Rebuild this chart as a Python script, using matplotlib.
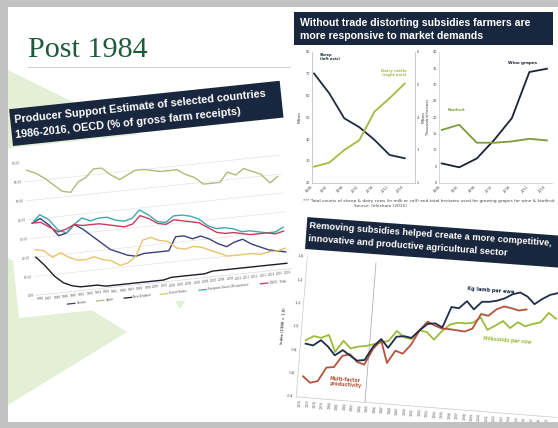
import numpy as np
import matplotlib
matplotlib.use("Agg")
import matplotlib.pyplot as plt
from matplotlib.patches import Rectangle, Polygon
from matplotlib.lines import Line2D
from matplotlib.transforms import Affine2D
from matplotlib import font_manager
import mpl_toolkits.axisartist.floating_axes as floating_axes
from mpl_toolkits.axisartist.grid_finder import FixedLocator, DictFormatter

# ---------------------------------------------------------------- data
slide_title = "Post 1984"

# Chart 1: Producer Support Estimate (% of gross farm receipts)
pse_title = ["Producer Support Estimate of selected countries",
             "1986-2016, OECD (% of gross farm receipts)"]
pse_years = list(range(1986, 2017))
pse_ticks = [0, 10, 20, 30, 40, 50, 60, 70]
pse_names = ["Canada", "Japan", "New Zealand", "United States",
             "European Union (28 countries)", "OECD - Total"]
pse_canada = [38, 40, 36, 30, 31, 35, 32, 28, 24, 20, 18, 16, 15, 16, 16, 16,
              16, 23, 23, 21, 22, 20, 17, 15, 17, 18, 15, 13, 11, 10, 9]
pse_japan = [66, 64, 61, 57, 53, 52, 57, 59, 63, 63, 59, 56, 58, 60, 60, 59,
             58, 58, 58, 55, 53, 49, 49, 49, 54, 52, 55, 53, 51, 46, 49]
pse_nz = [20, 15, 9, 5, 3, 2, 2, 2, 1, 1, 1, 1, 1, 1, 1, 1,
          2, 2, 2, 2, 2, 3, 3, 3, 3, 3, 3, 3, 3, 3, 3]
pse_us = [24, 23, 19, 21, 18, 16, 16, 17, 15, 14, 11, 12, 15, 23, 24, 22,
          21, 17, 16, 17, 16, 14, 12, 10, 10, 10, 10, 9, 10, 10, 11]
pse_eu = [38, 42, 39, 33, 31, 35, 38, 36, 37, 37, 35, 34, 35, 39, 36, 32,
          31, 34, 34, 33, 31, 27, 25, 25, 24, 22, 22, 21, 20, 20, 22]
pse_oecd = [38, 38, 35, 32, 33, 35, 34, 34, 34, 33, 32, 31, 32, 36, 34, 31,
            30, 32, 31, 30, 29, 26, 23, 22, 22, 21, 20, 20, 20, 19, 20]

# Chart 2: responsiveness (sheep & dairy; wine grapes & kiwifruit)
resp_title = ["Without trade distorting subsidies farmers are",
              "more responsive to market demands"]
census_years = ["1986", "1991", "1996", "2001", "2006", "2011", "2016"]
sheep = [70, 61, 49.5, 45.4, 39.6, 32.7, 31.2]          # millions, left axis
dairy = [2.49, 2.61, 3.0, 3.3, 4.17, 4.58, 5.03]         # millions, right axis
wine_grapes = [5.9, 4.7, 7.4, 13.1, 19.7, 33.8, 34.8]    # thousand ha
kiwifruit = [16.1, 17.7, 12.2, 12.2, 12.6, 13.4, 12.9]   # thousand ha
sheep_ticks = [20, 30, 40, 50, 60, 70, 80]
dairy_ticks = [2, 3, 4, 5, 6]
area_ticks = [0, 5, 10, 15, 20, 25, 30, 35, 40]
footnote = ["*** Total counts of sheep & dairy cows (in milk or calf) and total "
            "hectares used for growing grapes for wine & kiwifruit",
            "Source: Infoshare (2015)"]

# Chart 3: productivity indices
prod_title = ["Removing subsidies helped create a more competitive,",
              "innovative and productive agricultural sector"]
prod_years = list(range(1976, 2010))
lamb_per_ewe = [0.86, 0.85, 0.90, 0.85, 0.78, 0.83, 0.79, 0.75, 0.76, 0.88,
                0.95, 0.88, 0.98, 0.99, 0.98, 1.05, 1.11, 1.12, 1.09, 1.27,
                1.265, 1.33, 1.265, 1.335, 1.34, 1.355, 1.38, 1.42, 1.44, 1.41,
                1.35, 1.40, 1.44, 1.46]
milksolids = [0.89, 0.93, 0.92, 0.95, 0.81, 0.91, 0.85, 0.87, 0.88, 0.90,
              0.92, 0.94, 1.03, 0.98, 0.97, 1.05, 1.04, 0.98, 1.06, 1.12,
              1.14, 1.14, 1.15, 1.20, 1.10, 1.14, 1.185, 1.13, 1.185, 1.155,
              1.18, 1.20, 1.285, 1.24]
mfp_years = list(range(1976, 2006))
mfp = [0.58, 0.53, 0.55, 0.67, 0.68, 0.78, 0.80, 0.74, 0.72, 0.86,
       0.94, 0.75, 0.86, 0.84, 0.92, 1.05, 1.13, 1.10, 1.08, 1.08,
       1.075, 1.07, 1.10, 1.23, 1.22, 1.28, 1.31, 1.30, 1.285, 1.30]
reform_year = 1984.5
idx_ticks = [0.4, 0.6, 0.8, 1.0, 1.2, 1.4, 1.6]

# ---------------------------------------------------------------- styles
NAVY_BOX = "#19273e"
GREEN_BG = "#e4f0d6"
pse_colors = ["#3d3f7d", "#b3b87a", "#1d1d28", "#e8c46d", "#3fa8ad", "#c83c5f"]
C_SHEEP, C_DAIRY, C_WINE, C_KIWI = "#1e2a40", "#a9b83e", "#1c2236", "#7c9b3c"
C_LAMB, C_MILK, C_MFP = "#1f2d4a", "#9dbb3a", "#b4533a"

FIG_W, FIG_H, DPI = 558, 428, 100
fig = plt.figure(figsize=(FIG_W / DPI, FIG_H / DPI), dpi=DPI, facecolor="white")
RENDERER = fig.canvas.get_renderer()
INCH = fig.dpi_scale_trans

_names = {f.name for f in font_manager.fontManager.ttflist}
TITLE_FONT = "Liberation Sans Narrow" if "Liberation Sans Narrow" in _names else "Liberation Sans"


def P(x, y):
    """image pixel (y down) -> inches (y up)"""
    return (x / DPI, (FIG_H - y) / DPI)


def along(pt, du, dv, angle):
    a = np.deg2rad(angle)
    x, y = pt
    return (x + du * np.cos(a) - dv * np.sin(a), y - du * np.sin(a) - dv * np.cos(a))


def fitted_size(text, family, weight, target_px):
    t = fig.text(0, 0, text, fontsize=10, family=family, weight=weight)
    w = t.get_window_extent(renderer=RENDERER).width
    t.remove()
    return 10 * target_px / w


def title_box(corner, width, height, angle, lines, offsets, target_px):
    fig.add_artist(Rectangle(P(*corner), width / DPI, height / DPI, angle=angle,
                             rotation_point="xy", transform=INCH,
                             facecolor=NAVY_BOX, edgecolor="none", zorder=4))
    size = fitted_size(lines[0], TITLE_FONT, "bold", target_px)
    for line, (du, dv) in zip(lines, offsets):
        fig.text(*P(*along(corner, du, dv, angle)), line, transform=INCH,
                 rotation=angle, rotation_mode="anchor", ha="left", va="baseline",
                 color="white", fontsize=size, family=TITLE_FONT, weight="bold",
                 zorder=5)


def rotated_axes(xlim, ylim, px_x, px_y, angle, center, xticks, xlabels, yticks, ylabels):
    tr = Affine2D().scale(px_x, px_y).rotate_deg(angle)
    gh = floating_axes.GridHelperCurveLinear(
        tr, extremes=(xlim[0], xlim[1], ylim[0], ylim[1]),
        grid_locator1=FixedLocator(list(xticks)),
        tick_formatter1=DictFormatter(dict(zip(xticks, xlabels))),
        grid_locator2=FixedLocator(list(yticks)),
        tick_formatter2=DictFormatter(dict(zip(yticks, ylabels))))
    w = (xlim[1] - xlim[0]) * px_x
    h = (ylim[1] - ylim[0]) * px_y
    a = np.deg2rad(abs(angle))
    W = (w * np.cos(a) + h * np.sin(a)) * 1.02
    H = (w * np.sin(a) + h * np.cos(a)) * 1.02
    cx, cy = center
    rect = [(cx - W / 2) / FIG_W, (FIG_H - cy - H / 2) / FIG_H, W / FIG_W, H / FIG_H]
    ax = fig.add_axes(rect, axes_class=floating_axes.FloatingAxes, grid_helper=gh)
    aux = ax.get_aux_axes(tr)
    aux.patch = ax.patch
    ax.patch.zorder = 0.9
    for side in ("top", "right"):
        ax.axis[side].set_visible(False)
    return ax, aux


# ---------------------------------------------------------------- slide background
for pts in ([(8, 70), (150, 140), (8, 150)],
            [(8, 258), (127, 332), (8, 405)],
            [(150, 262), (210, 262), (180, 309)]):
    fig.add_artist(Polygon([P(*p) for p in pts], closed=True, transform=INCH,
                           facecolor=GREEN_BG, edgecolor="none", zorder=-5))
fig.add_artist(Rectangle(P(19, 318), 276 / DPI, 170 / DPI, angle=6, rotation_point="xy",
                         transform=INCH, facecolor="white", edgecolor="none", zorder=-4))
fig.add_artist(Line2D([28 / DPI, 292 / DPI], [(FIG_H - 66.5) / DPI] * 2, transform=INCH,
                      color="#cdcdcd", lw=0.7, zorder=-3))
for (x0, y0, w, h) in [(0, FIG_H, 8, FIG_H), (0, 7, FIG_W, 7), (0, FIG_H, FIG_W, 6)]:
    fig.add_artist(Rectangle(P(x0, y0), w / DPI, h / DPI, transform=INCH,
                             facecolor="#c2c2c2", edgecolor="none", zorder=20))

fig.text(*P(28, 57), slide_title, transform=INCH, fontsize=21.7,
         family="Liberation Serif", color="#1d5b3b", ha="left", va="baseline")

# ---------------------------------------------------------------- chart 1 (PSE)
PSE_ANGLE = 6
ax1, aux1 = rotated_axes((1985.5, 2016.5), (0, 70), 8.3, 1.9, PSE_ANGLE, (156.7, 215.8),
                         pse_years, [str(y) for y in pse_years],
                         pse_ticks, [f"{v:.2f}" for v in pse_ticks])
ax1.grid(True, axis="y", color="#e3e3e3", linewidth=0.5)
ax1.axis["left"].line.set_visible(False)
ax1.axis["bottom"].line.set_color("#d8d8d8")
ax1.axis["bottom"].line.set_linewidth(0.5)
for side in ("left", "bottom"):
    ax1.axis[side].major_ticks.set_visible(False)
    ax1.axis[side].major_ticklabels.set_fontsize(2.1)
    ax1.axis[side].major_ticklabels.set_color("#555555")
    ax1.axis[side].major_ticklabels.set_pad(1.5)

pse_series = [pse_canada, pse_japan, pse_nz, pse_us, pse_eu, pse_oecd]
for vals, col in zip(pse_series, pse_colors):
    aux1.plot(pse_years, vals, color=col, lw=1.0)

legend_y = -6.3
lx = 1989.2
for name, col in zip(pse_names, pse_colors):
    aux1.plot([lx, lx + 0.9], [legend_y, legend_y], color=col, lw=0.9, clip_on=False)
    aux1.text(lx + 1.1, legend_y, name, fontsize=1.9, color="#444444",
              rotation=PSE_ANGLE, rotation_mode="anchor", ha="left", va="center",
              clip_on=False)
    lx += 0.9 + 1.1 + len(name) * 0.17 + 0.5

title_box((13, 146), 272, 37, PSE_ANGLE, pse_title, [(4, 23), (4, 8)], 254)

# ---------------------------------------------------------------- chart 2 (responsiveness)
fig.add_artist(Rectangle(P(291, 212), 267 / DPI, 200 / DPI, transform=INCH,
                         facecolor="white", edgecolor="none", zorder=-3))
title_box((294, 45), 259, 33, 0, resp_title, [(6, 19), (6, 6)], 232)

bottom = (FIG_H - 182.7) / FIG_H
height = 131 / FIG_H
x = np.arange(len(census_years))

ax_s = fig.add_axes([312 / FIG_W, bottom, 103 / FIG_W, height])
ax_s.plot(x, sheep, color=C_SHEEP, lw=1.3)
ax_s.set_xlim(-0.136, 6.68)
ax_s.set_ylim(20, 80)
ax_s.set_yticks(sheep_ticks)
ax_s.set_ylabel("Millions", fontsize=2.3, labelpad=3, color="#333333")
ax_d = ax_s.twinx()
ax_d.plot(x, dairy, color=C_DAIRY, lw=1.3)
ax_d.set_ylim(2, 6)
ax_d.set_yticks(dairy_ticks)
ax_d.set_ylabel("Millions", fontsize=2.3, labelpad=2, color="#333333")

ax_w = fig.add_axes([439 / FIG_W, bottom, 113 / FIG_W, height])
ax_w.plot(x, wine_grapes, color=C_WINE, lw=1.3)
ax_w.plot(x, kiwifruit, color=C_KIWI, lw=1.3)
ax_w.set_xlim(-0.154, 6.29)
ax_w.set_ylim(0, 40)
ax_w.set_yticks(area_ticks)
ax_w.set_ylabel("Thousands of hectares", fontsize=2.3, labelpad=2, color="#333333")

for a in (ax_s, ax_d, ax_w):
    a.set_xticks(x)
    a.set_xticklabels(census_years, rotation=45, ha="right")
    a.tick_params(labelsize=2.5, length=0, pad=1.5, colors="#444444")
    for sp in a.spines.values():
        sp.set_color("#c8c8c8")
        sp.set_linewidth(0.5)
    a.spines["top"].set_visible(False)
ax_w.spines["right"].set_visible(False)

ax_s.text(0.4, 79.5, "Sheep\n(left axis)", fontsize=2.6, color=C_SHEEP,
          weight="bold", ha="left", va="top", linespacing=1.1)
ax_s.text(5.3, 72, "Dairy cattle\n(right axis)", fontsize=2.8, color=C_DAIRY,
          weight="bold", ha="center", va="top", linespacing=1.1)
ax_w.text(3.78, 36.1, "Wine grapes", fontsize=3.0, color=C_WINE, weight="bold",
          ha="left", va="baseline")
ax_w.text(0.36, 21.9, "Kiwifruit", fontsize=2.6, color=C_KIWI, weight="bold",
          ha="left", va="baseline")

fs_note = fitted_size(footnote[0], "Liberation Sans", "normal", 217)
fig.text(*P(303, 202), footnote[0], transform=INCH, fontsize=fs_note, color="#444444",
         ha="left", va="baseline")
fig.text(*P(380, 207), footnote[1], transform=INCH, fontsize=fs_note, color="#444444",
         ha="center", va="baseline")

# ---------------------------------------------------------------- chart 3 (productivity)
PROD_ANGLE = -4.5
ax3, aux3 = rotated_axes((1975.3, 2010.2), (0.4, 1.6), 7.5, 117, PROD_ANGLE, (432.2, 337.2),
                         prod_years, [str(y) for y in prod_years],
                         idx_ticks, [f"{v:.1f}" for v in idx_ticks])
for side in ("left", "bottom"):
    ax3.axis[side].line.set_color("#c8c8c8")
    ax3.axis[side].line.set_linewidth(0.5)
    ax3.axis[side].major_ticks.set_visible(False)
    ax3.axis[side].major_ticklabels.set_color("#555555")
    ax3.axis[side].major_ticklabels.set_pad(2)
ax3.axis["left"].major_ticklabels.set_fontsize(3.0)
ax3.axis["bottom"].major_ticklabels.set_fontsize(2.2)
ax3.axis["bottom"].major_ticklabels.set_rotation(90)
ax3.axis["left"].label.set_text("Index (1986 = 1.0)")
ax3.axis["left"].label.set_fontsize(2.8)
ax3.axis["left"].label.set_visible(True)

aux3.plot([reform_year, reform_year], [idx_ticks[0], idx_ticks[-1]], color="#b0b0b0", lw=0.6)
aux3.plot(prod_years, milksolids, color=C_MILK, lw=1.3)
aux3.plot(mfp_years, mfp, color=C_MFP, lw=1.3)
aux3.plot(prod_years, lamb_per_ewe, color=C_LAMB, lw=1.3)

aux3.text(1996.9, 1.425, "Kg lamb per ewe", fontsize=3.6, color=C_LAMB, weight="bold",
          rotation=PROD_ANGLE, rotation_mode="anchor", ha="left", va="baseline")
aux3.text(1999.5, 1.01, "Milksolids per cow", fontsize=3.3, color=C_MILK, weight="bold",
          rotation=PROD_ANGLE, rotation_mode="anchor", ha="left", va="baseline")
aux3.text(1979.6, 0.60, "Multi-factor\nproductivity", fontsize=3.3, color=C_MFP,
          weight="bold", rotation=PROD_ANGLE, rotation_mode="anchor", ha="left",
          va="top", linespacing=1.1)

title_box((305, 249), 270, 32, -4.2, prod_title, [(3, 21), (3, 8)], 242)

fig.savefig("out.png", dpi=DPI, facecolor="white")
